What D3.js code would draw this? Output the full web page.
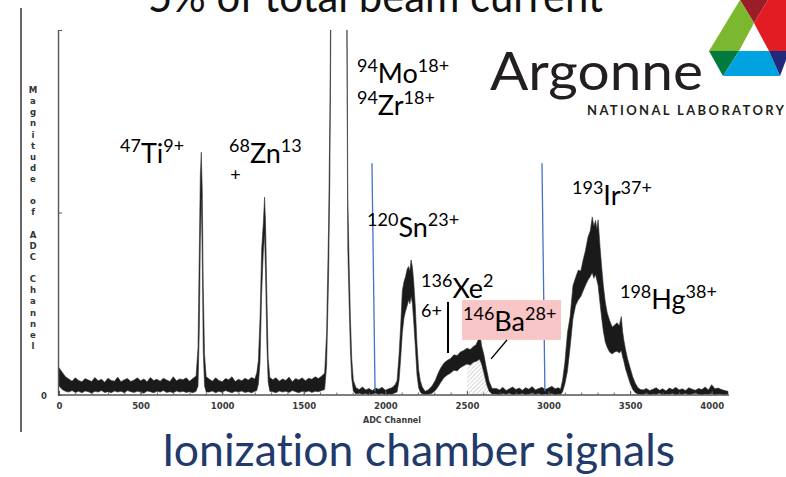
<!DOCTYPE html>
<html>
<head>
<meta charset="utf-8">
<script src="https://cdn.jsdelivr.net/npm/d3@7"></script>
<style>
body { margin: 0; background: #fff; }
svg { display: block; }
text { font-variant-ligatures: none; font-feature-settings: "liga" 0; }
</style>
</head>
<body>
<div id="chart"></div>
<script>
// ADC spectrum: channel and the top / bottom edge of the noisy trace (counts)
var channel = [
  0,20,40,60,80,100,120,140,160,180,200,220,240,260,280,300,320,340,360,380,400,420,
  440,460,480,500,520,540,560,580,600,620,640,660,680,700,720,740,760,780,800,820,840,
  852,860,866,872,878,884,892,902,
  920,940,960,980,1000,1020,1040,1060,1080,1100,1120,1140,1160,1180,1200,
  1212,1222,1232,1242,1252,1260,1266,1274,1282,1292,
  1310,1330,1350,1370,1390,1410,1430,1450,1470,1490,1510,1530,1550,1570,1590,1610,
  1628,1640,1652,1660,1666,1700,1740,1764,1770,1778,1786,1794,1804,
  1820,1840,1860,1880,1900,1920,1940,1960,1980,2000,2020,2040,2060,
  2072,2084,2094,2104,2114,2124,2134,2142,2150,2158,2166,2174,2184,2194,2204,2214,2226,
  2244,2262,2286,2306,2322,2340,2360,2380,2400,2420,2440,2460,2480,2500,2520,2540,2556,2568,2578,2590,2604,2620,2636,2654,
  2680,2700,2720,2740,2760,2780,2800,2820,2840,2860,2880,2900,2920,2940,2960,2980,3000,3020,3040,3060,
  3074,3086,3100,3116,3132,3150,3166,3182,3198,3212,3226,3242,3256,3268,3278,3288,3296,3304,3316,
  3326,3336,3348,3360,3374,3390,3406,3420,3434,3446,3454,3462,3472,3484,3500,3516,3532,3548,3564,
  3580,3600,3620,3640,3660,3680,3700,3720,3740,3760,3780,3800,3820,3840,3860,3880,3900,3920,3940,
  3960,3980,4000,4020,4040,4060,4080,4100
];
var upper = [
  75,62,50,44,38,47,40,36,45,41,37,48,39,43,35,46,40,38,49,36,42,45,
  37,41,47,39,44,36,48,40,43,38,46,41,37,50,39,44,42,47,38,45,52,
  130,400,600,665,560,300,110,50,
  44,38,47,40,36,45,42,50,37,43,39,46,41,48,44,
  60,95,210,400,470,542,470,270,100,48,
  42,47,38,44,40,49,36,45,41,47,39,46,43,50,45,52,
  60,170,460,760,1150,1150,1150,1150,540,360,210,100,40,
  20,15,22,14,18,12,19,16,21,13,17,20,28,
  40,110,190,285,310,325,345,352,340,370,350,310,240,140,70,40,22,
  10,14,25,40,58,75,88,95,100,110,108,118,122,128,125,133,138,150,172,135,110,72,38,18,
  18,14,21,12,17,22,15,19,13,20,16,23,14,18,21,15,19,24,17,20,
  16,40,88,170,214,300,322,342,340,370,395,433,450,488,462,478,455,480,405,
  350,300,255,225,205,186,192,198,190,215,175,150,125,100,75,50,32,20,15,
  14,18,12,16,20,13,17,11,19,15,21,14,17,12,20,16,13,18,15,
  22,14,28,17,19,15,12,10
];
var lower = [
  25,15,10,8,12,7,10,6,11,9,5,10,8,12,7,9,6,11,8,10,6,12,
  9,7,10,8,5,11,9,6,10,8,12,7,9,6,11,8,10,7,9,6,10,
  25,180,420,540,380,120,25,8,
  8,11,6,10,7,12,9,6,10,8,11,7,9,6,10,
  12,30,90,280,390,440,330,140,35,10,
  9,6,11,8,10,7,12,9,6,10,8,11,7,10,9,12,
  15,80,320,600,1000,1150,1150,1000,400,250,120,45,10,
  3,5,2,4,1,3,5,2,4,1,3,2,6,
  8,40,100,170,210,230,245,260,250,270,250,200,130,55,20,8,3,
  2,2,5,12,22,35,48,55,60,68,66,75,80,85,82,90,92,95,98,85,60,30,10,3,
  3,1,4,2,5,1,3,2,4,1,3,5,2,4,1,3,2,4,1,3,
  2,8,30,65,130,210,245,260,270,285,300,315,325,335,320,330,315,300,250,
  210,175,145,130,118,112,118,120,115,122,105,92,72,55,32,15,6,3,2,
  2,4,1,3,2,5,1,3,2,4,1,3,2,4,1,3,5,2,1,
  3,2,4,1,3,2,1,2
];

var xTickLabels = [0, 500, 1000, 1500, 2000, 2500, 3000, 3500, 4000];
var yTicks = [0, 500, 1000];
// blue gate lines: channel at top, channel at bottom
var gateTop = [1918, 2960];
var gateBottom = [1937, 2978];
var hatchRange = [2500, 2640];

var W = 786, H = 477;
var svg = d3.select("#chart").append("svg").attr("width", W).attr("height", H);

var x = d3.scaleLinear().domain([0, 4100]).range([59, 728]);
var y = d3.scaleLinear().domain([0, 1000]).range([395, 30]);

var pts = channel.map(function(c, i){ return {c: c, hi: upper[i], lo: lower[i]}; });

var defs = svg.append("defs");
defs.append("clipPath").attr("id", "plot")
  .append("rect").attr("x", 58).attr("y", 30).attr("width", 672).attr("height", 366);
var pat = defs.append("pattern").attr("id", "hatch")
  .attr("width", 3).attr("height", 3)
  .attr("patternUnits", "userSpaceOnUse")
  .attr("patternTransform", "rotate(45)");
pat.append("line").attr("x1", 0).attr("y1", 0).attr("x2", 0).attr("y2", 3)
  .attr("stroke", "#9a9a9a").attr("stroke-width", 0.8);

// page frame line of the scan
svg.append("line").attr("x1", 21).attr("x2", 21).attr("y1", 8).attr("y2", 432)
  .attr("stroke", "#333").attr("stroke-width", 1.5);

// hatched part under the Ba bump
var hatchPts = pts.filter(function(d){ return d.c >= hatchRange[0] && d.c <= hatchRange[1]; });
svg.append("path").datum(hatchPts)
  .attr("d", d3.area().x(function(d){ return x(d.c); }).y0(y(0)).y1(function(d){ return y(d.lo); }))
  .attr("fill", "url(#hatch)");

// spectrum
var g = svg.append("g").attr("clip-path", "url(#plot)");
g.append("path").datum(pts)
  .attr("d", d3.area()
    .x(function(d){ return x(d.c); })
    .y0(function(d){ return y(d.lo); })
    .y1(function(d){ return y(d.hi); }))
  .attr("fill", "#1a1a1a")
  .attr("stroke", "#333")
  .attr("stroke-width", 0.6);

// axes
var lab = "'DejaVu Sans Condensed', 'Liberation Sans', sans-serif";
var xAxis = svg.append("g").attr("transform", "translate(0," + y(0) + ")")
  .call(d3.axisBottom(x).tickValues(xTickLabels).tickFormat(d3.format("d"))
    .tickSizeInner(-4).tickSizeOuter(0).tickPadding(7));
xAxis.select(".domain").attr("stroke", "#555").attr("stroke-width", 1.6).attr("d", "M58,0H729");
xAxis.selectAll(".tick line").attr("stroke", "#555");
xAxis.selectAll("text").attr("font-family", lab)
  .attr("font-weight", "bold").attr("font-size", 9.5).attr("fill", "#3a3a3a");

var minor = svg.append("g").attr("transform", "translate(0," + y(0) + ")")
  .call(d3.axisBottom(x).tickValues(d3.range(100, 4100, 100)).tickSize(-2.5).tickFormat(""));
minor.select(".domain").remove();
minor.selectAll(".tick line").attr("stroke", "#666");

var yAxis = svg.append("g").attr("transform", "translate(58,0)")
  .call(d3.axisLeft(y).tickValues(yTicks).tickSizeInner(-4).tickSizeOuter(0).tickPadding(11)
    .tickFormat(function(d){ return d === 0 ? "0" : ""; }));
yAxis.select(".domain").attr("stroke", "#555").attr("stroke-width", 1.4);
yAxis.selectAll(".tick line").attr("stroke", "#555");
yAxis.selectAll("text").attr("font-family", lab)
  .attr("font-weight", "bold").attr("font-size", 9.5).attr("fill", "#3a3a3a");

svg.append("text").attr("x", 392).attr("y", 423).attr("text-anchor", "middle")
  .attr("font-family", lab).attr("font-weight", "bold")
  .attr("font-size", 8.5).attr("fill", "#3a3a3a")
  .attr("textLength", 58).attr("lengthAdjust", "spacingAndGlyphs")
  .text("ADC Channel");

svg.append("g").selectAll("text")
  .data("Magnitude of ADC Channel".split(""))
  .join("text")
  .attr("x", 33)
  .attr("y", function(d, i){ return 93 + i * 11.13; })
  .attr("text-anchor", "middle")
  .attr("font-family", lab).attr("font-weight", "bold")
  .attr("font-size", 9.5).attr("fill", "#333")
  .text(function(d){ return d; });

// blue gates
svg.selectAll(".gate").data(gateTop).join("line")
  .attr("class", "gate")
  .attr("x1", function(d){ return x(d); })
  .attr("x2", function(d, i){ return x(gateBottom[i]); })
  .attr("y1", y(635)).attr("y2", y(10))
  .attr("stroke", "#4472c4").attr("stroke-width", 1.3);

// annotations
var font = "Lato, 'Open Sans', sans-serif";
svg.append("rect").attr("x", x(2470)).attr("y", y(260))
  .attr("width", x(3077) - x(2470)).attr("height", y(151) - y(260))
  .attr("fill", "#f8c6c6");

var labels = [
  {p: ["47", "Ti", "9+"], at: [374, 636]},
  {p: ["68", "Zn", "13"], at: [1042, 636]},
  {p: ["94", "Mo", "18+"], at: [1826, 855]},
  {p: ["94", "Zr", "18+"], at: [1826, 767]},
  {p: ["120", "Sn", "23+"], at: [1888, 433]},
  {p: ["136", "Xe", "2"], at: [2219, 266]},
  {p: ["146", "Ba", "28+"], at: [2476, 175]},
  {p: ["193", "Ir", "37+"], at: [3144, 521]},
  {p: ["198", "Hg", "38+"], at: [3438, 236]}
];
labels.forEach(function(d){
  var t = svg.append("text").attr("x", x(d.at[0])).attr("y", y(d.at[1]))
    .attr("font-family", font).attr("fill", "#000");
  t.append("tspan").attr("font-size", 18).attr("dy", -11).text(d.p[0]);
  t.append("tspan").attr("font-size", 27).attr("dy", 11).text(d.p[1]);
  t.append("tspan").attr("font-size", 18).attr("dy", -11).text(d.p[2]);
});
svg.append("text").attr("x", x(1049)).attr("y", y(586))
  .attr("font-family", font).attr("font-size", 18).text("+");
svg.append("text").attr("x", x(2219)).attr("y", y(214))
  .attr("font-family", font).attr("font-size", 18).text("6+");

svg.append("line").attr("x1", x(2384)).attr("x2", x(2384)).attr("y1", y(255)).attr("y2", y(115))
  .attr("stroke", "#000").attr("stroke-width", 2);
svg.append("line").attr("x1", x(2746)).attr("x2", x(2648)).attr("y1", y(151)).attr("y2", y(99))
  .attr("stroke", "#000").attr("stroke-width", 1.5);

// slide titles (the top one is cut by the slide edge, as in the source)
svg.append("text").attr("x", 148).attr("y", 12)
  .attr("font-family", font).attr("font-size", 44).attr("fill", "#111")
  .attr("textLength", 455).attr("lengthAdjust", "spacingAndGlyphs")
  .text("5% of total beam current");
svg.append("text").attr("x", 162).attr("y", 466)
  .attr("font-family", font).attr("font-size", 44).attr("fill", "#22396b")
  .attr("textLength", 513).attr("lengthAdjust", "spacingAndGlyphs")
  .text("Ionization chamber signals");

// Argonne logo
svg.append("text").attr("x", 490).attr("y", 90)
  .attr("font-family", font).attr("font-size", 52).attr("fill", "#231f20")
  .attr("textLength", 213).attr("lengthAdjust", "spacingAndGlyphs")
  .text("Argonne");
svg.append("text").attr("x", 587).attr("y", 115)
  .attr("font-family", font).attr("font-size", 13).attr("font-weight", "bold").attr("fill", "#231f20")
  .attr("textLength", 197).attr("lengthAdjust", "spacing")
  .text("NATIONAL LABORATORY");

var logo = [
  {c: "#9b1d2a", p: [[740,0],[768,0],[754,23]]},
  {c: "#7cb82f", p: [[740,0],[754,23],[739,51],[709,51]]},
  {c: "#007a3d", p: [[709,51],[739,51],[723,76]]},
  {c: "#00a3e0", p: [[739,51],[769,51],[780,76],[723,76]]},
  {c: "#1f2a7a", p: [[769,51],[786,51],[786,60],[780,76]]},
  {c: "#e31b23", p: [[768,0],[786,0],[786,51],[769,51],[754,23]]}
];
svg.append("g").selectAll("polygon").data(logo).join("polygon")
  .attr("points", function(d){ return d.p.join(" "); })
  .attr("fill", function(d){ return d.c; });
</script>
</body>
</html>
